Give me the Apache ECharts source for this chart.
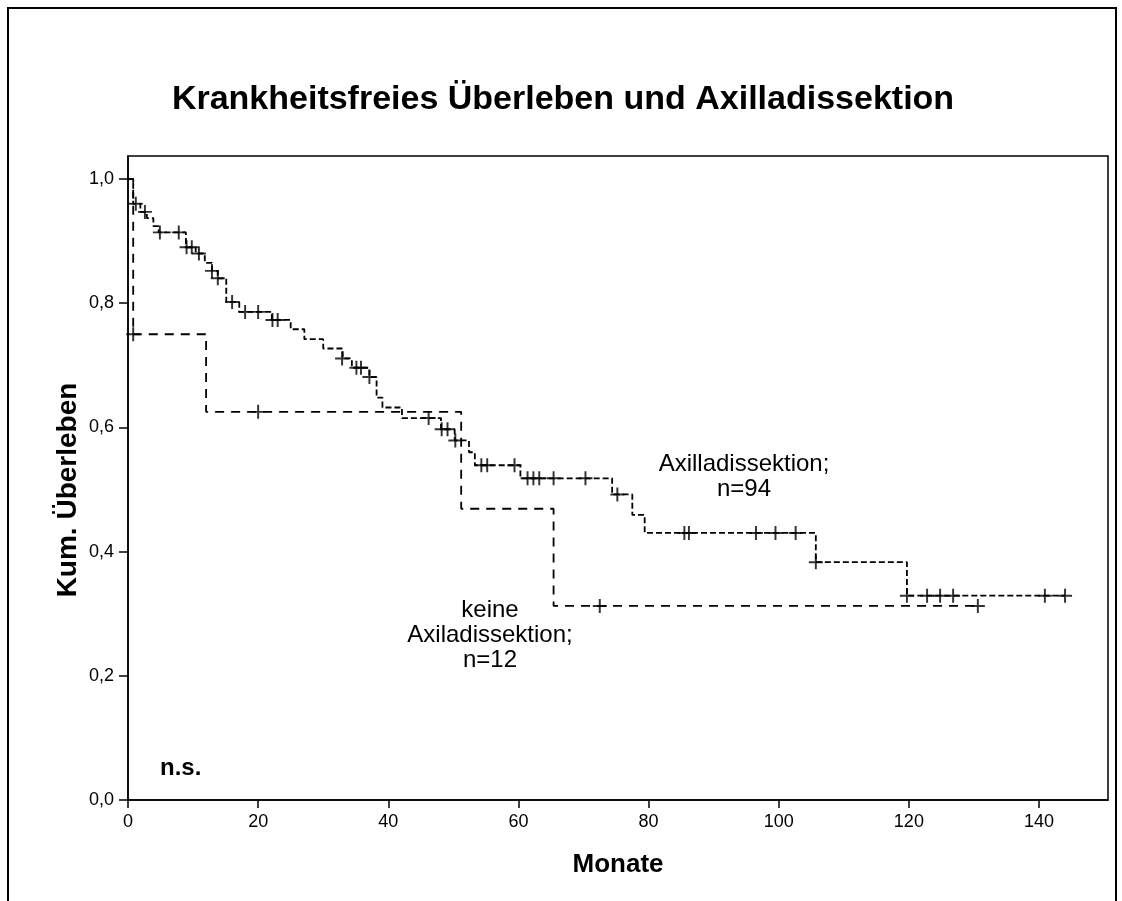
<!DOCTYPE html>
<html>
<head>
<meta charset="utf-8">
<script src="https://cdn.jsdelivr.net/npm/echarts@6/dist/echarts.min.js"></script>
<style>
html,body{margin:0;padding:0;background:#fff;}
#chart{width:1122px;height:901px;}
</style>
</head>
<body>
<div id="chart"></div>
<script>
// ---- Data ----
const xTicks = [0, 20, 40, 60, 80, 100, 120, 140];
const yTicks = [0, 0.2, 0.4, 0.6, 0.8, 1.0];

// Axilladissektion (n=94): event times (months) and survival after each step
const axillaEventMonths = [0, 0.8, 1.9, 2.9, 3.9, 4.7, 8.9, 10.4, 11.8, 12.9, 13.8, 15.1, 17.1, 22.1, 25.0, 27.1, 30.0, 33.0, 34.4, 37.1, 38.2, 39.1, 42.1, 48.1, 50.2, 52.4, 53.3, 60.3, 74.4, 77.5, 79.4, 105.7, 119.7, 144.0];
const axillaEventSurv   = [1.0, 0.960, 0.947, 0.937, 0.924, 0.914, 0.890, 0.880, 0.865, 0.852, 0.840, 0.802, 0.786, 0.773, 0.758, 0.742, 0.727, 0.711, 0.696, 0.681, 0.648, 0.632, 0.615, 0.597, 0.579, 0.560, 0.539, 0.518, 0.492, 0.459, 0.430, 0.383, 0.329, 0.329];
// censored observations
const axillaCensorMonths = [1.2, 2.6, 4.9, 7.8, 9.0, 9.8, 10.9, 12.9, 13.8, 16.0, 18.0, 20.0, 22.2, 23.0, 32.9, 35.1, 35.8, 37.1, 46.2, 48.2, 49.1, 50.3, 54.3, 55.2, 59.4, 61.4, 62.3, 63.2, 65.4, 70.3, 75.2, 85.5, 86.2, 96.5, 99.5, 102.6, 105.7, 119.7, 122.8, 124.8, 126.8, 140.9, 144.0];
const axillaCensorSurv   = [0.960, 0.947, 0.914, 0.914, 0.890, 0.890, 0.880, 0.852, 0.840, 0.802, 0.786, 0.786, 0.773, 0.773, 0.711, 0.696, 0.696, 0.681, 0.615, 0.597, 0.597, 0.579, 0.539, 0.539, 0.539, 0.518, 0.518, 0.518, 0.518, 0.518, 0.492, 0.430, 0.430, 0.430, 0.430, 0.430, 0.383, 0.329, 0.329, 0.329, 0.329, 0.329, 0.329];

// keine Axiladissektion (n=12)
const keineEventMonths = [0, 0.8, 12.0, 51.2, 65.4, 130.6];
const keineEventSurv   = [1.0, 0.750, 0.625, 0.469, 0.3125, 0.3125];
const keineCensorMonths = [0.8, 20.0, 72.5, 130.6];
const keineCensorSurv   = [0.750, 0.625, 0.3125, 0.3125];

const titleText = 'Krankheitsfreies Überleben und Axilladissektion';
const xAxisTitle = 'Monate';
const yAxisTitle = 'Kum. Überleben';

// ---- Build ----
const zip = (a, b) => a.map((v, i) => [v, b[i]]);
const plusPath = 'path://M4.3,0 H5.7 V4.3 H10 V5.7 H5.7 V10 H4.3 V5.7 H0 V4.3 H4.3 Z';
const FONT = "'Liberation Sans', Arial, sans-serif";

const chart = echarts.init(document.getElementById('chart'), null, {renderer: 'canvas'});
chart.setOption({
  animation: false,
  backgroundColor: '#fff',
  grid: {left: 128, right: 14, top: 156, bottom: 101, show: true, borderColor: '#000', borderWidth: 1.5, backgroundColor: 'transparent'},
  xAxis: {
    type: 'value', min: 0, max: 150.6,
    axisLine: {show: true, lineStyle: {color: '#000', width: 1.5}},
    axisTick: {show: true, length: 8, lineStyle: {color: '#000', width: 1.5}, customValues: xTicks},
    axisLabel: {color: '#000', fontFamily: FONT, fontSize: 18, margin: 13, customValues: xTicks},
    splitLine: {show: false}
  },
  yAxis: {
    type: 'value', min: 0, max: 1.037,
    axisLine: {show: true, lineStyle: {color: '#000', width: 1.5}},
    axisTick: {show: true, length: 9, lineStyle: {color: '#000', width: 1.5}, customValues: yTicks},
    axisLabel: {color: '#000', fontFamily: FONT, fontSize: 18, margin: 14, customValues: yTicks,
      formatter: v => v.toFixed(1).replace('.', ',')},
    splitLine: {show: false}
  },
  series: [
    {type: 'line', name: 'Axilladissektion', step: 'end', showSymbol: false, silent: true,
      data: zip(axillaEventMonths, axillaEventSurv),
      lineStyle: {color: '#000', width: 1.8, type: [6, 3]}},
    {type: 'line', name: 'keine Axiladissektion', step: 'end', showSymbol: false, silent: true,
      data: zip(keineEventMonths, keineEventSurv),
      lineStyle: {color: '#000', width: 1.8, type: [9, 7]}},
    {type: 'scatter', symbol: plusPath, symbolSize: 14, silent: true,
      itemStyle: {color: '#000'}, data: zip(axillaCensorMonths, axillaCensorSurv)},
    {type: 'scatter', symbol: plusPath, symbolSize: 14, silent: true,
      itemStyle: {color: '#000'}, data: zip(keineCensorMonths, keineCensorSurv)}
  ],
  graphic: [
    {type: 'rect', shape: {x: 8, y: 8, width: 1108, height: 1000}, style: {fill: 'none', stroke: '#000', lineWidth: 2}, silent: true},
    {type: 'text', x: 563, y: 100, style: {text: titleText, font: "bold 34px " + FONT, fill: '#000', textAlign: 'center', textVerticalAlign: 'middle'}},
    {type: 'text', x: 618, y: 865, style: {text: xAxisTitle, font: "bold 26px " + FONT, fill: '#000', textAlign: 'center', textVerticalAlign: 'middle'}},
    {type: 'text', x: 68, y: 490, rotation: Math.PI / 2, style: {text: yAxisTitle, font: "bold 28px " + FONT, fill: '#000', textAlign: 'center', textVerticalAlign: 'middle'}},
    {type: 'text', x: 744, y: 477, style: {text: 'Axilladissektion;\nn=94', font: "24px " + FONT, lineHeight: 25, fill: '#000', textAlign: 'center', textVerticalAlign: 'middle'}},
    {type: 'text', x: 490, y: 635, style: {text: 'keine\nAxiladissektion;\nn=12', font: "24px " + FONT, lineHeight: 25, fill: '#000', textAlign: 'center', textVerticalAlign: 'middle'}},
    {type: 'text', x: 160, y: 768, style: {text: 'n.s.', font: "bold 24px " + FONT, fill: '#000', textAlign: 'left', textVerticalAlign: 'middle'}}
  ]
});
</script>
</body>
</html>
